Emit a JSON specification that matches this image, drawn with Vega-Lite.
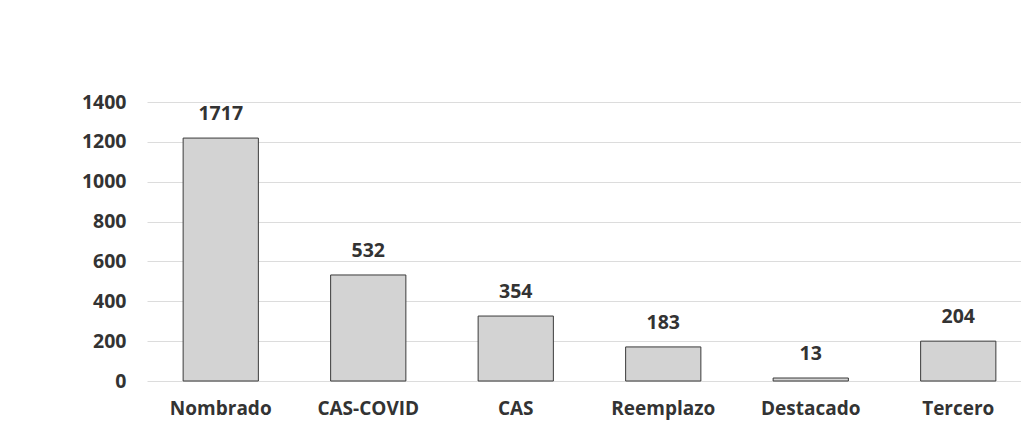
{
  "$schema": "https://vega.github.io/schema/vega-lite/v6.json",
  "autosize": {"type": "none"},
  "padding": {"left": 147, "top": 102, "right": 0, "bottom": 49},
  "width": 874,
  "height": 279,
  "background": "#ffffff",
  "data": {
    "values": [
      {"categoria": "Nombrado", "barra": 1219, "etiqueta": "1717"},
      {"categoria": "CAS-COVID", "barra": 532, "etiqueta": "532"},
      {"categoria": "CAS", "barra": 326, "etiqueta": "354"},
      {"categoria": "Reemplazo", "barra": 171, "etiqueta": "183"},
      {"categoria": "Destacado", "barra": 15, "etiqueta": "13"},
      {"categoria": "Tercero", "barra": 200, "etiqueta": "204"}
    ]
  },
  "encoding": {
    "x": {
      "field": "categoria",
      "type": "nominal",
      "sort": null,
      "title": null,
      "scale": {"range": [0, 885], "paddingInner": 0.49, "paddingOuter": 0.245},
      "axis": {
        "labelAngle": 0,
        "domain": false,
        "ticks": false,
        "labelPadding": 18,
        "labelFont": "Open Sans",
        "labelFontWeight": "bold",
        "labelFontSize": 19,
        "labelColor": "#333333"
      }
    },
    "y": {
      "field": "barra",
      "type": "quantitative",
      "title": null,
      "scale": {"domain": [0, 1400], "nice": false},
      "axis": {
        "values": [0, 200, 400, 600, 800, 1000, 1200, 1400],
        "format": "d",
        "domain": false,
        "ticks": false,
        "labelPadding": 21,
        "labelFont": "Open Sans",
        "labelFontWeight": "bold",
        "labelFontSize": 19.5,
        "labelColor": "#333333",
        "gridColor": "#dcdcdc",
        "gridWidth": 1
      }
    }
  },
  "layer": [
    {
      "mark": {"type": "bar", "fill": "#d3d3d3", "stroke": "#3a3a3a", "strokeWidth": 1}
    },
    {
      "mark": {
        "type": "text",
        "baseline": "middle",
        "dy": -24,
        "font": "Open Sans",
        "fontWeight": "bold",
        "fontSize": 19.5,
        "color": "#333333"
      },
      "encoding": {"text": {"field": "etiqueta"}}
    }
  ],
  "config": {"view": {"stroke": null}}
}
